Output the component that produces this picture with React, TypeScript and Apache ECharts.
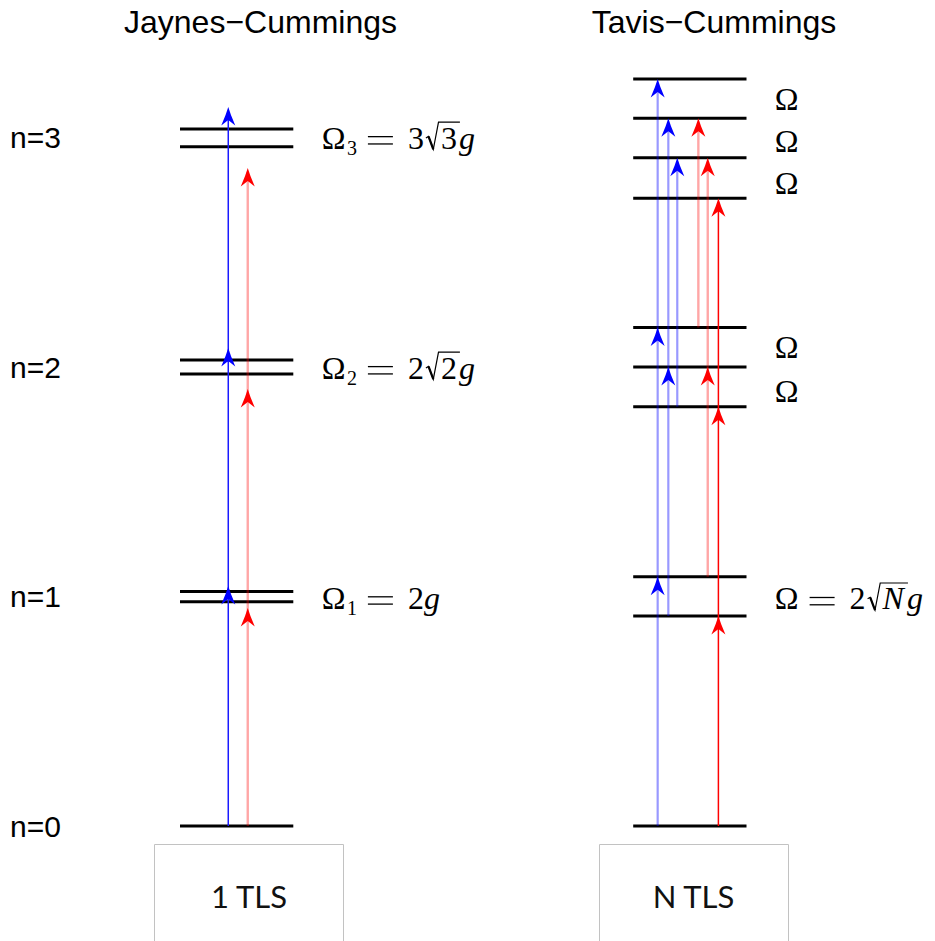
import React, { useEffect, useRef } from "react";
import * as echarts from "echarts";

// ---- data -------------------------------------------------------------
// Energies in units of the cavity photon energy (n = 0 … 3).
const jcLevels = [0, 0.977, 1.022, 1.97, 2.031, 2.96, 3.037];
const tcLevels = [0, 0.915, 1.086, 1.827, 2.0, 2.172, 2.735, 2.912, 3.084, 3.255];

// horizontal extent of the level bars for each ladder
const jcSpan = [0, 1];
const tcSpan = [4, 5];

// Transition arrows: x position, start energy, arrowhead energies, style
const arrowXs = [0.426, 0.598, 4.216, 4.31, 4.389, 4.575, 4.658, 4.752];
const arrowFrom = [0, 0, 0, 0.915, 1.827, 2.172, 1.086, 0];
const arrowHeads = [
  [1.046, 2.083, 3.133],
  [0.95, 1.904, 2.867],
  [1.086, 2.172, 3.255],
  [2.0, 3.084],
  [2.912],
  [3.084],
  [2.0, 2.912],
  [0.915, 1.827, 2.735],
];
const arrowKinds = ["blue", "paleRed", "paleBlue", "paleBlue", "paleBlue", "paleRed", "paleRed", "red"];

// photon-number labels
const stateNames = ["n=0", "n=1", "n=2", "n=3"];
const stateEnergies = [0, 1, 2, 3];

// splitting labels (math)
type Tok = { t: string; sub?: boolean; it?: boolean; rad?: boolean; eq?: boolean };
const splitLabelTexts: Tok[][] = [
  [{ t: "Ω" }, { t: "1", sub: true }, { t: "=", eq: true }, { t: "2" }, { t: "g", it: true }],
  [{ t: "Ω" }, { t: "2", sub: true }, { t: "=", eq: true }, { t: "2" }, { t: "2", rad: true }, { t: "g", it: true }],
  [{ t: "Ω" }, { t: "3", sub: true }, { t: "=", eq: true }, { t: "3" }, { t: "3", rad: true }, { t: "g", it: true }],
  [{ t: "Ω" }],
  [{ t: "Ω" }, { t: "=", eq: true }, { t: "2" }, { t: "N", rad: true, it: true }, { t: "g", it: true }],
];
const splitLabelX = [1.25, 1.25, 1.25, 5.25, 5.25, 5.25, 5.25, 5.25, 5.25];
const splitLabelE = [0.993, 1.996, 2.998, 3.168, 2.983, 2.8, 2.087, 1.895, 0.99];
const splitLabelIdx = [0, 1, 2, 3, 3, 3, 3, 3, 4];

const titles = ["Jaynes−Cummings", "Tavis−Cummings"];
const systemNames = ["1 TLS", "N TLS"];

// ---- layout -------------------------------------------------------------
const X_MIN = -1.5;
const X_MAX = 6.5;
const Y_MIN = -0.5;
const Y_MAX = 3.5;
const PX_X = 113.3;
const PX_Y = 229.5;
const ORIGIN_X = 180;
const ORIGIN_Y = 826;

const SANS = '"Liberation Sans", Arial, Helvetica, sans-serif';
const SERIF = '"Liberation Serif", "Times New Roman", serif';

const colors: Record<string, { line: string; width: number; head: string }> = {
  blue: { line: "#1a1aff", width: 1.5, head: "#0000ff" },
  paleBlue: { line: "rgba(0,0,255,0.4)", width: 2.2, head: "#0000ff" },
  red: { line: "#ff0000", width: 1.5, head: "#ff0000" },
  paleRed: { line: "rgba(255,0,0,0.35)", width: 2.4, head: "#ff0000" },
};

const measureCtx: CanvasRenderingContext2D | null =
  typeof document !== "undefined" ? document.createElement("canvas").getContext("2d") : null;
function textWidth(text: string, font: string) {
  if (!measureCtx) return text.length * 16;
  measureCtx.font = font;
  return measureCtx.measureText(text).width;
}

function textEl(text: string, x: number, baseline: number, size: number, italic: boolean) {
  const font = `${italic ? "italic " : ""}${size}px ${SERIF}`;
  const y = baseline - 0.3375 * size;
  return {
    type: "text",
    style: {
      text,
      x,
      y,
      font,
      fill: "#000",
      align: "left",
      verticalAlign: "middle",
      textAlign: "left",
      textVerticalAlign: "middle",
    },
  };
}

function seg(x1: number, y1: number, x2: number, y2: number, w: number) {
  return { type: "line", shape: { x1, y1, x2, y2 }, style: { stroke: "#000", lineWidth: w } };
}

// Typesets a short formula starting at x with the given baseline.
function formula(toks: Tok[], x: number, B: number) {
  const S = 32;
  const SUB = 20;
  const children: any[] = [];
  let cx = x;
  for (const tk of toks) {
    if (tk.eq) {
      cx += 11;
      children.push(seg(cx, B - 11.8, cx + 25, B - 11.8, 1.3));
      children.push(seg(cx, B - 4.5, cx + 25, B - 4.5, 1.3));
      cx += 25 + 15;
      continue;
    }
    if (tk.sub) {
      cx += 1.5;
      children.push(textEl(tk.t, cx, B + 6, SUB, false));
      cx += textWidth(tk.t, `${SUB}px ${SERIF}`);
      continue;
    }
    const font = `${tk.it ? "italic " : ""}${S}px ${SERIF}`;
    const w = textWidth(tk.t, font);
    if (tk.rad) {
      const x0 = cx + 2;
      const top = B - 26.3;
      const rx = x0 + 15;
      const end = rx + w + (tk.it ? 4 : 3);
      children.push({
        type: "polyline",
        shape: { points: [[x0, B - 10.5], [x0 + 2.6, B - 12], [x0 + 7.4, B + 0.8], [x0 + 12.6, top], [end, top]] },
        style: { stroke: "#000", lineWidth: 1.2, fill: null },
      });
      children.push(seg(x0 + 2.6, B - 12, x0 + 7.4, B + 0.8, 2.2));
      children.push(textEl(tk.t, rx, B, S, !!tk.it));
      cx = end - 1;
      continue;
    }
    children.push(textEl(tk.t, cx, B, S, !!tk.it));
    cx += w;
  }
  return { type: "group", children };
}

function buildOption() {
  const levelData: number[][] = [];
  jcLevels.forEach((e) => levelData.push([jcSpan[0], jcSpan[1], e]));
  tcLevels.forEach((e) => levelData.push([tcSpan[0], tcSpan[1], e]));

  const shaftData = arrowXs.map((x, i) => [x, arrowFrom[i], Math.max(...arrowHeads[i]), i]);
  const headData: number[][] = [];
  arrowHeads.forEach((hs, i) => hs.forEach((e) => headData.push([arrowXs[i], e, i])));

  const stateData = stateEnergies.map((e, i) => [X_MIN, e, i]);
  const splitData = splitLabelX.map((x, i) => [x, splitLabelE[i], splitLabelIdx[i]]);

  return {
    animation: false,
    backgroundColor: "#ffffff",
    grid: {
      left: ORIGIN_X + X_MIN * PX_X,
      width: (X_MAX - X_MIN) * PX_X,
      top: ORIGIN_Y - Y_MAX * PX_Y,
      height: (Y_MAX - Y_MIN) * PX_Y,
      containLabel: false,
    },
    xAxis: { type: "value", min: X_MIN, max: X_MAX, show: false },
    yAxis: { type: "value", min: Y_MIN, max: Y_MAX, show: false },
    series: [
      {
        type: "custom",
        name: "levels",
        silent: true,
        data: levelData,
        renderItem: (_p: any, api: any) => {
          const a = api.coord([api.value(0), api.value(2)]);
          const b = api.coord([api.value(1), api.value(2)]);
          return {
            type: "line",
            shape: { x1: a[0], y1: a[1], x2: b[0], y2: b[1] },
            style: { stroke: "#000", lineWidth: 3 },
          };
        },
        z: 1,
      },
      {
        type: "custom",
        name: "shafts",
        silent: true,
        data: shaftData,
        renderItem: (_p: any, api: any) => {
          const c = colors[arrowKinds[api.value(3)]];
          const a = api.coord([api.value(0), api.value(1)]);
          const b = api.coord([api.value(0), api.value(2)]);
          return {
            type: "line",
            shape: { x1: a[0], y1: a[1], x2: b[0], y2: b[1] + 4 },
            style: { stroke: c.line, lineWidth: c.width },
          };
        },
        z: 2,
      },
      {
        type: "custom",
        name: "heads",
        silent: true,
        data: headData,
        renderItem: (_p: any, api: any) => {
          const c = colors[arrowKinds[api.value(2)]];
          const p = api.coord([api.value(0), api.value(1)]);
          const pts = [
            [0, 0],
            [2.7, 8],
            [7, 18.5],
            [0, 13],
            [-7, 18.5],
            [-2.7, 8],
          ].map(([dx, dy]) => [p[0] + dx, p[1] + dy]);
          return { type: "polygon", shape: { points: pts }, style: { fill: c.head, stroke: null } };
        },
        z: 3,
      },
      {
        type: "custom",
        name: "states",
        silent: true,
        data: stateData,
        renderItem: (_p: any, api: any) => {
          const p = api.coord([api.value(0), api.value(1)]);
          return {
            type: "text",
            style: {
              text: stateNames[api.value(2)],
              x: p[0],
              y: p[1],
              font: `30px ${SANS}`,
              fill: "#000",
              align: "left",
              verticalAlign: "middle",
              textAlign: "left",
              textVerticalAlign: "middle",
            },
          };
        },
        z: 4,
      },
      {
        type: "custom",
        name: "splittings",
        silent: true,
        data: splitData,
        renderItem: (_p: any, api: any) => {
          const p = api.coord([api.value(0), api.value(1)]);
          return formula(splitLabelTexts[api.value(2)], p[0], p[1] + 10.5);
        },
        z: 4,
      },
    ],
    graphic: [
      {
        type: "text",
        x: 260.5,
        y: 21.5,
        style: { text: titles[0], font: `32px ${SANS}`, fill: "#000", align: "center", verticalAlign: "middle" },
      },
      {
        type: "text",
        x: 714,
        y: 21.5,
        style: { text: titles[1], font: `32px ${SANS}`, fill: "#000", align: "center", verticalAlign: "middle" },
      },
      {
        type: "rect",
        shape: { x: 154.5, y: 844.5, width: 189, height: 130 },
        style: { fill: "none", stroke: "#c2c2c2", lineWidth: 1 },
      },
      {
        type: "rect",
        shape: { x: 599.5, y: 844.5, width: 189, height: 130 },
        style: { fill: "none", stroke: "#c2c2c2", lineWidth: 1 },
      },
      {
        type: "text",
        x: 249,
        y: 896,
        style: { text: systemNames[0], font: `31px Lato, "Open Sans", sans-serif`, fill: "#111", align: "center", verticalAlign: "middle" },
      },
      {
        type: "text",
        x: 693.5,
        y: 896,
        style: { text: systemNames[1], font: `31px Lato, "Open Sans", sans-serif`, fill: "#111", align: "center", verticalAlign: "middle" },
      },
    ],
  };
}

export default function App() {
  const ref = useRef<HTMLDivElement>(null);
  useEffect(() => {
    if (!ref.current) return;
    const chart = echarts.init(ref.current, null, { renderer: "svg" });
    chart.setOption(buildOption() as any);
    return () => chart.dispose();
  }, []);
  return (
    <div
      ref={ref}
      style={{ position: "fixed", left: 0, top: 0, width: 935, height: 941, background: "#fff" }}
    />
  );
}
